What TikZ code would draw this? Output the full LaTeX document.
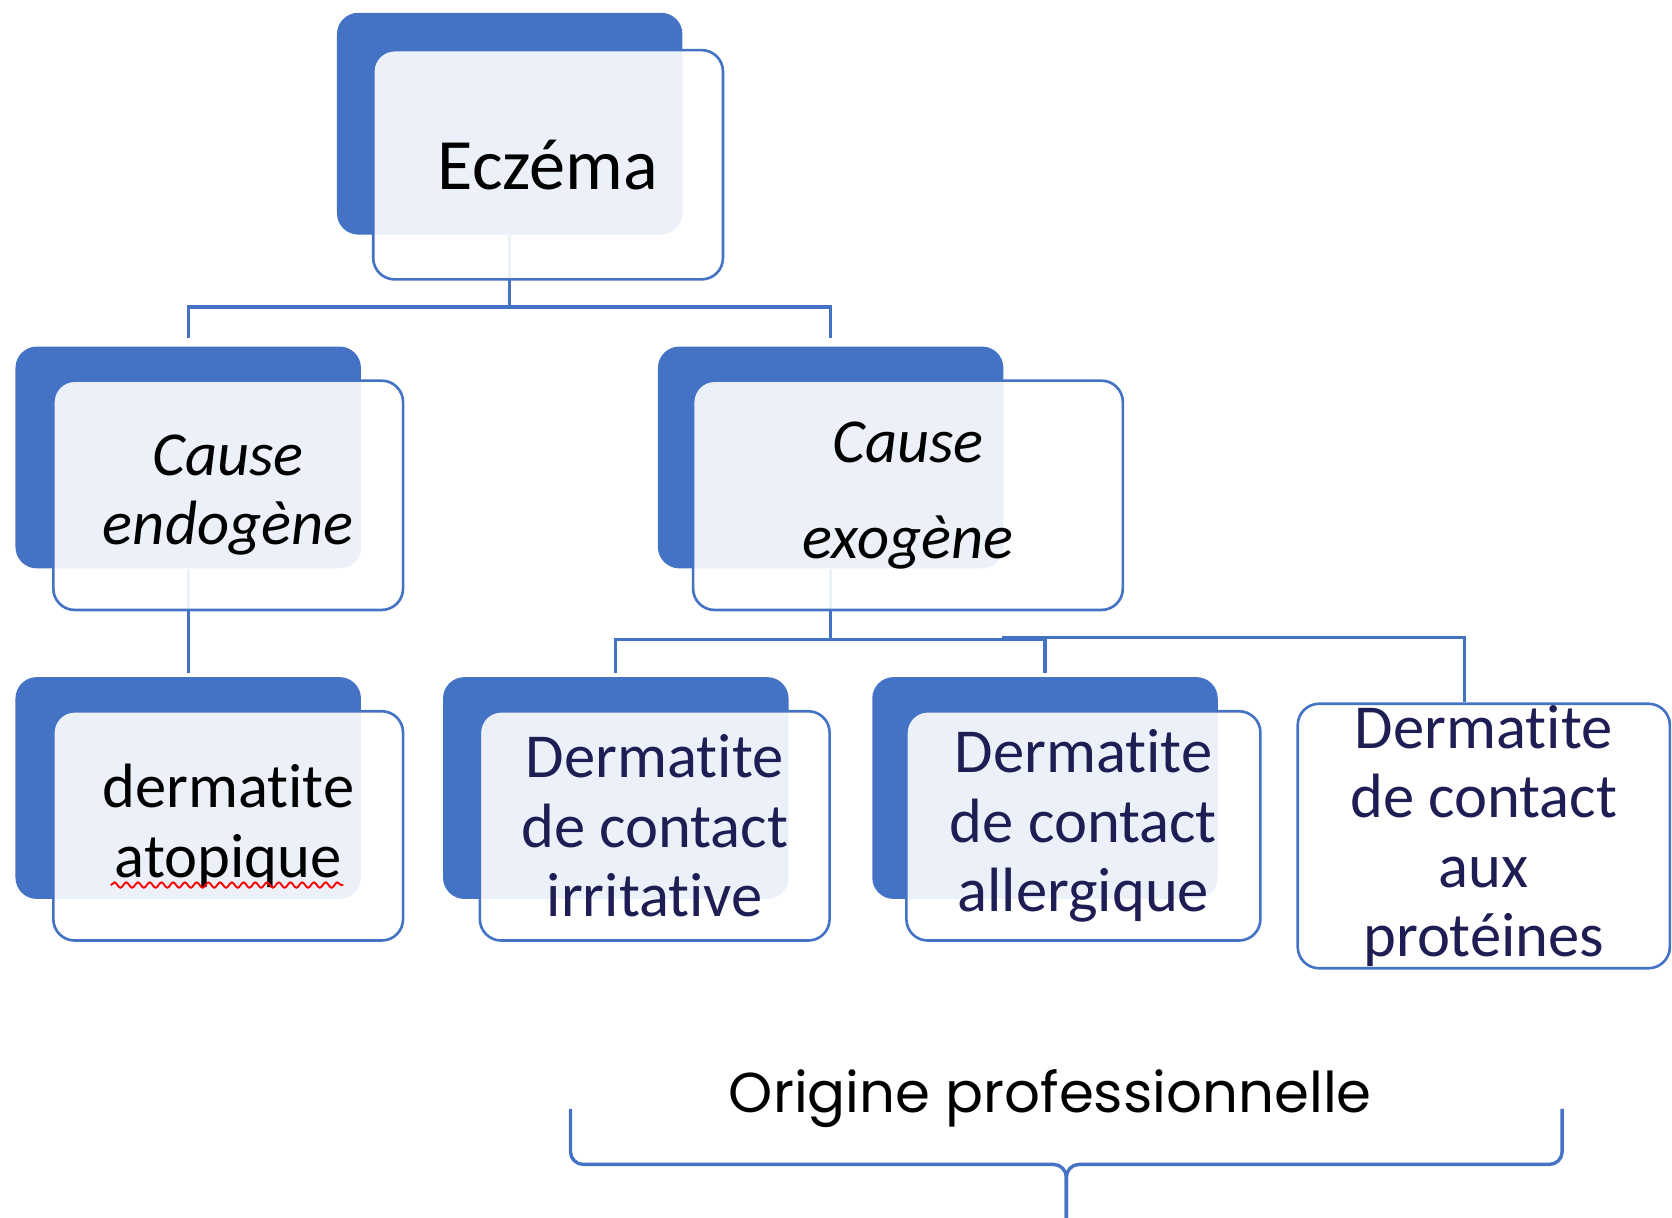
\documentclass[tikz,border=0pt]{standalone}
\usepackage{fontspec}
\setmainfont{Carlito}[Ligatures=NoCommon]
\newfontfamily\gothic{Poppins}
\usetikzlibrary{decorations.pathmorphing}
\definecolor{boxblue}{HTML}{4472C4}
\definecolor{inkblue}{HTML}{1E1E54}

\begin{document}
\begin{tikzpicture}[x=0.1mm,y=-0.1mm,
  back/.style={fill=boxblue,rounded corners=2mm,minimum width=32.4mm,minimum height=20.8mm,inner sep=0pt},
  front/.style={draw=boxblue,line width=0.7pt,fill=white,fill opacity=0.9,text opacity=1,rounded corners=2mm,
    minimum width=32.8mm,minimum height=21.5mm,align=center,inner sep=0pt,font=\fontsize{16.7}{18.5}\selectfont},
  link/.style={draw=boxblue,line width=0.9pt}]
  \useasboundingbox (0,0) rectangle (1568,1142);

  \node[back] (eczBack) at (478,116) {};
  \node[back] (endoBack) at (176.5,429) {};
  \node[back] (exoBack) at (779,429) {};
  \node[back] (atoBack) at (176.5,739) {};
  \node[back] (irrBack) at (577.5,739) {};
  \node[back] (allBack) at (980,739) {};

  \coordinate (bus1) at (478,288);
  \coordinate (bus2) at (779,600);
  \coordinate (bus3) at (940,598);
  \draw[link] (eczBack.south) -- (bus1);
  \draw[link,shorten >=0.7mm] (bus1) -| (endoBack.north);
  \draw[link,shorten >=0.7mm] (bus1) -| (exoBack.north);
  \draw[link,shorten >=0.3mm] (endoBack.south) -- (atoBack.north);
  \draw[link] (exoBack.south) -- (bus2);
  \draw[link,shorten >=0.3mm] (bus2) -| (irrBack.north);
  \draw[link,shorten >=0.3mm] (bus2) -| (allBack.north);

  \node[front,font=\fontsize{19.3}{22}\selectfont] (ecz) at (514,154.5) {Eczéma};
  \node[front,font=\itshape\fontsize{16.7}{18.5}\selectfont] (endo) at (214,464.5) {Cause\\endogène};
  \node[front,minimum width=40.3mm,font=\itshape\fontsize{16.7}{25.6}\selectfont] (exo) at (851.5,464.5) {Cause\\exogène};
  \node[front] (ato) at (214,774.5) {dermatite\\atopique};
  \node[front,text=inkblue] (irr) at (614,774.5) {Dermatite\\de contact\\irritative};
  \node[front,text=inkblue,minimum width=33.2mm] (all) at (1016,774.5) {Dermatite\\de contact\\allergique};
  \node[front,text=inkblue,minimum width=34.9mm,minimum height=24.8mm] (prot) at (1391.5,784) {Dermatite\\de contact\\aux\\protéines};
  \draw[link] (bus3) -| ([xshift=-1.8mm]prot.north);

  \draw[red,line width=0.5pt,decorate,decoration={snake,amplitude=0.25mm,segment length=1.1mm}] (104,830) -- (322,830);

  \node[font=\gothic\fontsize{15}{18}\selectfont] (orig) at (985,1030) {Origine professionnelle};
  \coordinate (tip) at (1000,1142);
  \draw[link,rounded corners=1.2mm] (535,1040) -- (535,1092) -- (1000,1092) -- (tip);
  \draw[link,rounded corners=1.2mm] (1465,1040) -- (1465,1092) -- (1000,1092) -- (tip);

\end{tikzpicture}
\end{document}
